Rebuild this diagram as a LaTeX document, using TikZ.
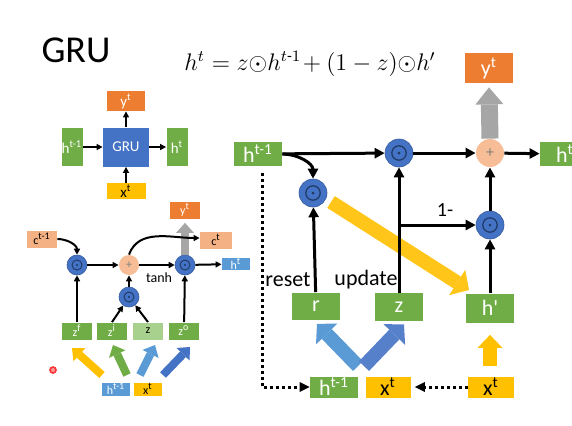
\documentclass[tikz,border=0pt]{standalone}
\usepackage{amsmath}
\usepackage{fontspec}
\setmainfont{Carlito}
\usepackage{tikz}
\usetikzlibrary{arrows.meta}
\usetikzlibrary{calc}
\definecolor{gGreen}{HTML}{70AD47}
\definecolor{gLight}{HTML}{A9D18E}
\definecolor{gBlue}{HTML}{4472C4}
\definecolor{gSky}{HTML}{5B9BD5}
\definecolor{gOrange}{HTML}{ED7D31}
\definecolor{gYellow}{HTML}{FFC000}
\definecolor{gPeach}{HTML}{F4B183}
\definecolor{gNavy}{HTML}{1F3864}
\definecolor{gGray}{HTML}{A6A6A6}
\tikzstyle{gbox} = [rectangle, inner sep=0pt, text=white]
\tikzstyle{bbox} = [gbox, font=\fontsize{11}{11}\selectfont, minimum width=24pt]
\tikzstyle{sbox} = [gbox, font=\fontsize{7.5}{8}\selectfont]
\tikzstyle{tbox} = [gbox, font=\fontsize{6}{6}\selectfont, minimum width=15pt, minimum height=8.5pt]
\tikzstyle{odot} = [circle, fill=gBlue, draw=gBlue!80!black, line width=0.3pt, inner sep=0pt, minimum size=14pt,
  path picture={\draw[gNavy, line width=0.6pt] (path picture bounding box.center) circle (3.6pt);
    \fill[gNavy] (path picture bounding box.center) circle (0.75pt);}]
\tikzstyle{sodot} = [circle, fill=gBlue, draw=gBlue!80!black, line width=0.3pt, inner sep=0pt, minimum size=10pt,
  path picture={\draw[gNavy, line width=0.45pt] (path picture bounding box.center) circle (2.5pt);
    \fill[gNavy] (path picture bounding box.center) circle (0.55pt);}]
\tikzstyle{plus} = [circle, fill=gPeach!85, inner sep=0pt, minimum size=14pt, text=gray, font=\fontsize{8}{8}\selectfont]
\tikzstyle{splus} = [plus, minimum size=10pt, font=\fontsize{6}{6}\selectfont]
\tikzstyle{arr} = [-{Triangle[length=5pt,width=5pt]}, line width=1.5pt]
\tikzstyle{sarr} = [-{Triangle[length=3pt,width=3pt]}, line width=0.8pt]
\tikzstyle{tarr} = [-{Triangle[length=3pt,width=3pt]}, line width=1pt]
\tikzstyle{dots} = [line width=1.5pt, dash pattern=on 1.5pt off 1.5pt]
\tikzstyle{fat} = [line width=7pt, -{Triangle[length=7pt,width=15pt,line width=0pt]}]
\tikzstyle{lfat} = [line width=4pt, -{Triangle[length=5pt,width=9pt,line width=0pt]}]

\begin{document}
\begin{tikzpicture}[x=0.5pt,y=-0.5pt]
		\useasboundingbox (0,0) rectangle (572,425);
		\node[font=\fontsize{19}{19}\selectfont] (title) at (76,50) {GRU};
		\node[font=\fontsize{12}{12}\selectfont] (eq) at (310,64) {$h^t = z{\odot}h^{t\text{-}1}\!+ (1-z){\odot}h'$};
		% small GRU block
		\node[sbox, fill=gBlue, minimum width=23pt, minimum height=19.5pt] (g0) at (126,147) {GRU};
		\node[sbox, fill=gGreen, minimum width=10.5pt, minimum height=19pt] (g1) at (72,147) {h\textsuperscript{t-1}};
		\node[sbox, fill=gGreen, minimum width=10.5pt, minimum height=19pt] (g2) at (177,147) {h\textsuperscript{t}};
		\node[sbox, fill=gOrange, minimum width=19pt, minimum height=10pt] (gy) at (126,101) {y\textsuperscript{t}};
		\node[sbox, fill=gYellow, text=black, minimum width=19.5pt, minimum height=8pt] (gx) at (126,191) {x\textsuperscript{t}};
		\foreach \from/\to in {g1/g0,g0/g2,g0/gy,gx/g0}
		\draw[sarr] (\from) -- (\to);
		% LSTM
		\node[tbox, fill=gPeach, text=black] (ca) at (42,239) {c\textsuperscript{t-1}};
		\node[tbox, fill=gPeach, text=black, minimum width=16pt] (cb) at (216,240) {c\textsuperscript{t}};
		\node[tbox, fill=gOrange] (yl) at (185,210) {y\textsuperscript{t}};
		\node[tbox, fill=gSky, minimum width=14pt, minimum height=6pt] (hl) at (236,264) {h\textsuperscript{t}};
		\node[sodot] (l1) at (77,265) {};
		\node[splus] (lp) at (129,265) {+};
		\node[sodot] (l3) at (185,265) {};
		\node[sodot] (l2) at (129,297) {};
		\node[tbox, fill=gGreen] (zf) at (77,331) {z\textsuperscript{f}};
		\node[tbox, fill=gGreen] (zi) at (112,331) {z\textsuperscript{i}};
		\node[tbox, fill=gLight, text=black] (zz) at (148,331) {z};
		\node[tbox, fill=gGreen] (zo) at (184,331) {z\textsuperscript{o}};
		\node[tbox, fill=gSky, minimum width=14pt, minimum height=6.5pt] (hl0) at (116,389) {h\textsuperscript{t-1}};
		\node[tbox, fill=gYellow, text=black, minimum width=14pt, minimum height=6.5pt] (xl0) at (148,389) {x\textsuperscript{t}};
		\draw[lfat, gGray] (l3.north) -- ([yshift=-2pt]yl.south);
		\foreach \from/\to in {zf/l1,zo/l3,l2/lp,zi.north/l2,zz.north/l2,l1/lp,l3/hl}
		\draw[tarr] (\from) -- (\to);
		\draw[tarr] (lp) -- (l3) node[midway, below, font=\fontsize{7}{7}\selectfont, xshift=1pt] {tanh};
		\draw[tarr] (ca.east) to[out=0,in=90] (l1.north);
		\draw[tarr] (lp.north) to[out=70,in=180] ($(cb.west)+(0,-2)$);
		\coordinate (a1) at (102,375); \coordinate (b1) at (72,348);
		\coordinate (a2) at (127,375); \coordinate (b2) at (113,345);
		\coordinate (a3) at (140,375); \coordinate (b3) at (155,345);
		\coordinate (a4) at (163,375); \coordinate (b4) at (190,347);
		\draw[lfat, gYellow] (a1) -- (b1);
		\draw[lfat, gGreen] (a2) -- (b2);
		\draw[lfat, gSky] (a3) -- (b3);
		\draw[lfat, gBlue] (a4) -- (b4);
		\node[circle, fill=red!40, draw=red!80, line width=0.8pt, inner sep=0pt, minimum size=3pt] (dot) at (53,370) {};
		% GRU cell
		\node[bbox, fill=gGreen, minimum height=12pt] (ha) at (258,154) {h\textsuperscript{t-1}};
		\node[bbox, fill=gGreen, minimum width=25pt, minimum height=12pt] (hc) at (565,154) {h\textsuperscript{t}};
		\node[bbox, fill=gOrange, minimum height=15pt] (yr) at (489,68) {y\textsuperscript{t}};
		\node[odot] (mt) at (399,153) {};
		\node[plus] (pa) at (490,153) {+};
		\node[odot] (mr) at (313,193) {};
		\node[odot] (mz) at (490,225) {};
		\node[bbox, fill=gGreen, minimum height=13.5pt] (rb) at (316,306) {r};
		\node[bbox, fill=gGreen, minimum height=14pt] (zb) at (399,307) {z};
		\node[bbox, fill=gGreen, minimum height=14.5pt] (hp) at (490,308) {h\textquotesingle};
		\node[bbox, fill=gGreen, minimum height=10.5pt] (hb) at (334,387) {h\textsuperscript{t-1}};
		\node[bbox, fill=gYellow, text=black, minimum width=22.5pt, minimum height=10.5pt] (xm) at (388,387) {x\textsuperscript{t}};
		\node[bbox, fill=gYellow, text=black, minimum width=23pt, minimum height=10.5pt] (xr) at (491,387) {x\textsuperscript{t}};
		\node[font=\fontsize{11}{11}\selectfont] (rs) at (288,280) {reset};
		\node[font=\fontsize{11}{11}\selectfont] (up) at (366,280) {update};
		\draw[fat, gGray, line width=8.5pt, -{Triangle[length=8.5pt,width=14pt,line width=0pt]}] (pa.north) -- ([yshift=-2pt]yr.south);
		\draw[fat, gYellow!90] (331,202) coordinate (ya) -- (469,290) coordinate (yb);
		\draw[fat, gSky] ($(hb.north)+(24,-10)$) -- ($(rb.south)+(1,4)$);
		\draw[fat, gBlue!90] ($(hb.north)+(30,-10)$) -- ($(zb.south)+(5,3)$);
		\draw[fat, gYellow, -{Triangle[length=6.5pt,width=12.5pt,line width=0pt]}] ($(xr.north)+(-1,-10)$) -- ($(hp.south)+(0,12)$);
		\foreach \from/\to in {ha/mt,mt/pa,pa/hc,zb/mt,mz/pa,hp/mz,rb/mr}
		\draw[arr] (\from) -- (\to);
		\draw[arr] (ha.east) to[out=0,in=90] (mr.north);
		\draw[arr] (zb.north |- mz) -- (mz.west) node[pos=0.6, above, font=\fontsize{10}{10}\selectfont] {1-};
		\draw[dots, -{Triangle[length=5pt,width=5pt,line width=0pt]}] ([xshift=2pt,yshift=-3.5pt]ha.south) |- (hb.west);
		\draw[dots, -{Triangle[length=5pt,width=5pt,line width=0pt]}] (xr.west) -- ([xshift=2pt]xm.east);
	\end{tikzpicture}
\end{document}
